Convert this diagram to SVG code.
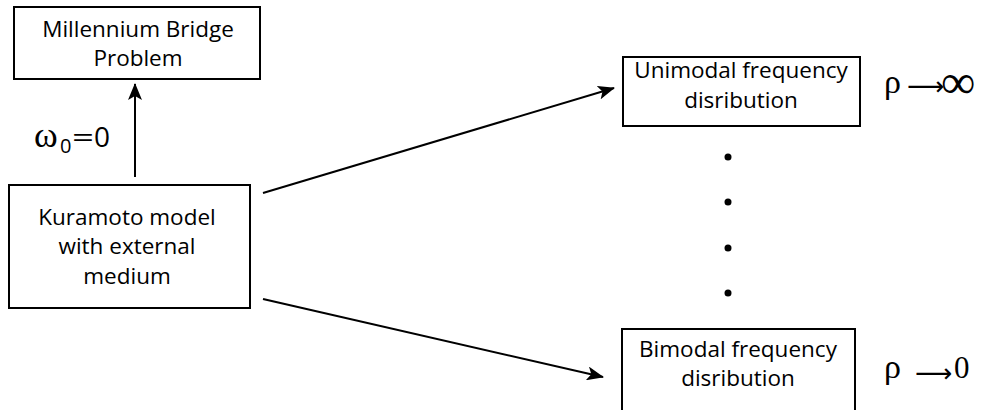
<svg xmlns="http://www.w3.org/2000/svg" width="984" height="410" viewBox="0 0 984 410">
<style>
.box{fill:#fff;stroke:#000;stroke-width:2}
.lbl{font-family:"Open Sans","Noto Sans",sans-serif;font-size:22.5px;fill:#000;text-anchor:middle}
.sym{font-family:"Liberation Serif","DejaVu Serif",serif;fill:#000}
.sans{font-family:"Open Sans","Noto Sans",sans-serif;fill:#000}
.arr{font-family:"DejaVu Sans",sans-serif;fill:#000}
.conn{stroke:#000;stroke-width:2;fill:none}
</style>
<defs>
<marker id="ah" markerUnits="userSpaceOnUse" viewBox="0 0 17 14" refX="16" refY="7" markerWidth="17" markerHeight="14" orient="auto">
<path d="M0,0 L17,7 L0,14 L4,7 z" fill="#000"/>
</marker>
</defs>
<rect width="984" height="410" fill="#fff"/>
<g id="connectors">
<line class="conn" x1="135" y1="177" x2="135" y2="84" marker-end="url(#ah)"/>
<line class="conn" x1="263" y1="193" x2="614" y2="88" marker-end="url(#ah)"/>
<line class="conn" x1="263" y1="299" x2="603" y2="377" marker-end="url(#ah)"/>
</g>
<g id="millennium">
<rect class="box" x="14" y="7" width="246" height="72"/>
<text class="lbl" x="138" y="37">Millennium Bridge</text>
<text class="lbl" x="138" y="66">Problem</text>
</g>
<g id="kuramoto">
<rect class="box" x="9" y="185" width="241" height="123"/>
<text class="lbl" x="127" y="225">Kuramoto model</text>
<text class="lbl" x="127" y="254">with external</text>
<text class="lbl" x="127" y="284">medium</text>
</g>
<g id="unimodal">
<rect class="box" x="623" y="57" width="237" height="69"/>
<text class="lbl" x="741" y="78">Unimodal frequency</text>
<text class="lbl" x="741" y="108">disribution</text>
</g>
<g id="bimodal">
<rect class="box" x="622" y="329" width="233" height="95"/>
<text class="lbl" x="738" y="357">Bimodal frequency</text>
<text class="lbl" x="738" y="386">disribution</text>
</g>
<g id="omega-label">
<text x="34" y="147" font-size="36" class="sym">ω</text>
<text x="60" y="153" font-size="20" class="sans">0</text>
<text x="72" y="147" font-size="28" class="sans" textLength="22" lengthAdjust="spacingAndGlyphs">=</text>
<text x="94" y="147" font-size="28" class="sans">0</text>
</g>
<g id="rho-inf">
<text class="sym" x="884" y="93" font-size="34">ρ</text>
<text class="arr" x="907" y="95" font-size="26">⟶</text>
<text class="sym" x="941" y="98" font-size="48">∞</text>
</g>
<g id="rho-zero">
<text class="sym" x="884" y="378" font-size="34">ρ</text>
<text class="arr" x="915" y="382" font-size="26">⟶</text>
<text class="sym" x="954" y="378" font-size="31">0</text>
</g>
<g id="dots" fill="#000">
<circle cx="728" cy="157" r="3.5"/>
<circle cx="728" cy="202" r="3.5"/>
<circle cx="728" cy="248" r="3.5"/>
<circle cx="728" cy="293" r="3.5"/>
</g>
</svg>
